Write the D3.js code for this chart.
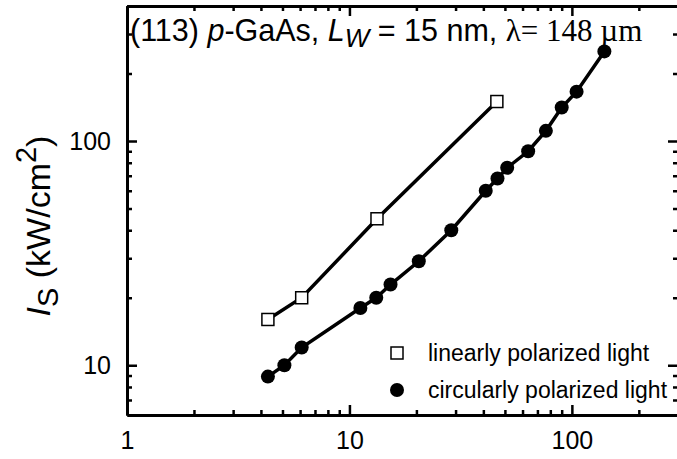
<!DOCTYPE html>
<html>
<head>
<meta charset="utf-8">
<script src="https://cdn.jsdelivr.net/npm/d3@7"></script>
<style>
  body { margin: 0; background: #fff; }
  text { font-family: "Liberation Sans", Arial, sans-serif; fill: #000; }
</style>
</head>
<body>
<svg id="chart" width="677" height="459"></svg>
<script>
// excitation intensity (x) and saturation intensity I_s (kW/cm^2)
var linX = [4.3, 6.1, 13.3, 46];
var linY = [16, 20, 45, 150];
var circX = [4.3, 5.1, 6.1, 11.2, 13.2, 15.3, 20.5, 28.7, 41, 46.3, 51.2, 63.6, 76.4, 90, 105, 140];
var circY = [8.9, 10, 12, 18, 20, 22.9, 29.1, 40, 60, 68, 76, 90, 111, 141, 166, 251];
var xTicks = [1, 10, 100];
var yTicks = [10, 100];
var xMinor = [2, 3, 4, 5, 6, 7, 8, 9, 20, 30, 40, 50, 60, 70, 80, 90, 200, 300];
var yMinor = [7, 8, 9, 20, 30, 40, 50, 60, 70, 80, 90, 200, 300, 400];
var legendLabels = ["linearly polarized light", "circularly polarized light"];

var svg = d3.select("#chart");
var mLeft = 127, mRight = 678, mTop = 6, mBottom = 415;

var x = d3.scaleLog().domain([1, 300]).range([mLeft, mRight]);
var y = d3.scaleLog().domain([6, 400]).range([mBottom, mTop]);

function styleAxis(g, fs) {
  g.attr("font-size", fs).attr("font-family", "Liberation Sans, Arial, sans-serif");
  g.select(".domain").attr("stroke-width", 3).attr("stroke", "#000");
  g.selectAll(".tick line").attr("stroke-width", 2.5).attr("stroke", "#000");
}

// bottom axis
svg.append("g").attr("transform", `translate(0,${mBottom})`)
  .call(d3.axisBottom(x).tickValues(xMinor).tickSize(-5).tickSizeOuter(0).tickFormat(""))
  .call((g) => styleAxis(g, 25));
svg.append("g").attr("transform", `translate(0,${mBottom})`)
  .call(d3.axisBottom(x).tickValues(xTicks).tickSize(-10).tickSizeOuter(0).tickPadding(16).tickFormat(d3.format("d")))
  .call((g) => styleAxis(g, 25));

// top axis
svg.append("g").attr("transform", `translate(0,${mTop})`)
  .call(d3.axisTop(x).tickValues(xMinor).tickSize(-5).tickSizeOuter(0).tickFormat(""))
  .call((g) => styleAxis(g, 25));
svg.append("g").attr("transform", `translate(0,${mTop})`)
  .call(d3.axisTop(x).tickValues(xTicks).tickSize(-10).tickSizeOuter(0).tickFormat(""))
  .call((g) => styleAxis(g, 25));

// left axis
svg.append("g").attr("transform", `translate(${mLeft},0)`)
  .call(d3.axisLeft(y).tickValues(yMinor).tickSize(-5).tickSizeOuter(0).tickFormat(""))
  .call((g) => styleAxis(g, 25));
svg.append("g").attr("transform", `translate(${mLeft},0)`)
  .call(d3.axisLeft(y).tickValues(yTicks).tickSize(-10).tickSizeOuter(0).tickPadding(16).tickFormat(d3.format("d")))
  .call((g) => styleAxis(g, 25));

// right axis
svg.append("g").attr("transform", `translate(${mRight},0)`)
  .call(d3.axisRight(y).tickValues(yMinor).tickSize(-5).tickSizeOuter(0).tickFormat(""))
  .call((g) => styleAxis(g, 25));
svg.append("g").attr("transform", `translate(${mRight},0)`)
  .call(d3.axisRight(y).tickValues(yTicks).tickSize(-10).tickSizeOuter(0).tickFormat(""))
  .call((g) => styleAxis(g, 25));

var line = d3.line().x((d) => x(d[0])).y((d) => y(d[1]));

var linData = linX.map((v, i) => [v, linY[i]]);
var circData = circX.map((v, i) => [v, circY[i]]);

svg.append("path").datum(circData).attr("d", line)
  .attr("fill", "none").attr("stroke", "#000").attr("stroke-width", 3.5);
svg.append("path").datum(linData).attr("d", line)
  .attr("fill", "none").attr("stroke", "#000").attr("stroke-width", 3.5);

svg.selectAll(".circ").data(circData).enter().append("circle")
  .attr("class", "circ")
  .attr("cx", (d) => x(d[0])).attr("cy", (d) => y(d[1]))
  .attr("r", 7).attr("fill", "#000");

svg.selectAll(".sq").data(linData).enter().append("rect")
  .attr("class", "sq")
  .attr("x", (d) => x(d[0]) - 6).attr("y", (d) => y(d[1]) - 6)
  .attr("width", 12).attr("height", 12)
  .attr("fill", "#fff").attr("stroke", "#000").attr("stroke-width", 1.5);

// legend
var legend = svg.append("g").attr("transform", "translate(397,353)");
legend.append("rect").attr("x", -6).attr("y", -6).attr("width", 12).attr("height", 12)
  .attr("fill", "#fff").attr("stroke", "#000").attr("stroke-width", 1.5);
legend.append("circle").attr("cx", 0).attr("cy", 37).attr("r", 7).attr("fill", "#000");
legend.selectAll(".lt").data(legendLabels).enter().append("text")
  .attr("class", "lt")
  .attr("x", 31).attr("y", (d, i) => 8 + i * 37)
  .style("font-size", "23px")
  .text((d) => d);

// title inside plot
var title = svg.append("text").attr("x", 130).attr("y", 41).style("font-size", "30.5px");
title.append("tspan").text("(113) ");
title.append("tspan").style("font-style", "italic").text("p");
title.append("tspan").text("-GaAs, ");
title.append("tspan").style("font-style", "italic").text("L");
title.append("tspan").style("font-style", "italic").style("font-size", "26px").attr("dy", 6).text("W");
title.append("tspan").attr("dy", -6).text(" = 15 nm, ");
title.append("tspan").style("font-family", "Liberation Serif, Times New Roman, serif").style("font-size", "31px").text("\u03bb= 148 \u00b5m");

// y axis label
var ylab = svg.append("text")
  .attr("transform", "translate(50,226) rotate(-90)")
  .attr("text-anchor", "middle")
  .style("font-size", "34px");
ylab.append("tspan").style("font-style", "italic").text("I");
ylab.append("tspan").style("font-size", "29px").attr("dy", 8).text("S");
ylab.append("tspan").attr("dy", -8).text(" (kW/cm");
ylab.append("tspan").style("font-size", "29px").attr("dy", -14).text("2");
ylab.append("tspan").attr("dy", 14).text(")");
</script>
</body>
</html>
